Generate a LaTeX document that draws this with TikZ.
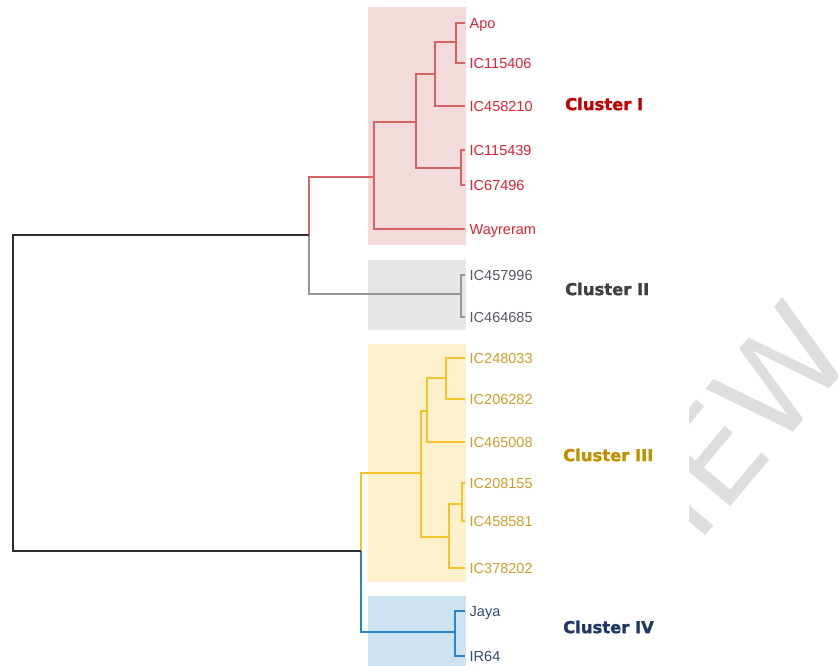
\documentclass[tikz,border=0pt]{standalone}
\usepackage{fontspec}
\setmainfont{Liberation Sans}
\newfontfamily\dejavu{DejaVu Sans}
\newfontfamily\clabfont[FakeBold=1.6]{DejaVu Sans Bold}
\usepackage{xcolor}
\usepackage{tikz}
\usetikzlibrary{positioning}

\definecolor{bgI}{RGB}{244,219,219}
\definecolor{bgII}{RGB}{230,230,230}
\definecolor{bgIII}{RGB}{252,241,204}
\definecolor{bgIV}{RGB}{205,226,243}
\definecolor{lnIcol}{RGB}{214,100,100}
\definecolor{lnIIcol}{RGB}{150,150,150}
\definecolor{lnIIIcol}{RGB}{243,197,40}
\definecolor{lnIVcol}{RGB}{42,132,208}
\definecolor{txIcol}{RGB}{222,32,50}
\definecolor{txIIcol}{RGB}{85,88,98}
\definecolor{txIIIcol}{RGB}{204,158,42}
\definecolor{txIVcol}{RGB}{48,74,112}
\definecolor{clIcol}{RGB}{192,0,0}
\definecolor{clIIcol}{RGB}{64,64,64}
\definecolor{clIIIcol}{RGB}{191,144,0}
\definecolor{clIVcol}{RGB}{31,56,100}
\definecolor{rootcol}{RGB}{45,45,45}
\definecolor{wmcol}{RGB}{222,222,222}

\begin{document}
\begin{tikzpicture}[x=1pt, y=-1pt,
  leaf/.style={anchor=west, inner xsep=4.5pt, inner ysep=0pt, text height=10.4pt, text depth=0pt, font=\fontsize{14.5}{16}\selectfont},
  leafI/.style={leaf, text=txIcol},
  leafII/.style={leaf, text=txIIcol},
  leafIII/.style={leaf, text=txIIIcol},
  leafIV/.style={leaf, text=txIVcol},
  clab/.style={anchor=west, inner sep=0pt, font=\clabfont\fontsize{16.4}{18}\selectfont},
  br/.style={line width=1.8pt},
  lnI/.style={br, draw=lnIcol},
  lnII/.style={br, draw=lnIIcol},
  lnIII/.style={br, draw=lnIIIcol},
  lnIV/.style={br, draw=lnIVcol},
  lnroot/.style={line width=2pt, draw=rootcol}
]
\useasboundingbox (0,0) rectangle (838,666);

\begin{scope}
\clip (689,0) rectangle (838,666);
\node[rotate=50, anchor=base east, inner sep=0pt, text=wmcol, font=\dejavu\fontsize{130}{130}\selectfont] (wm) at (858,355) {PREVIEW};
\end{scope}

\fill[bgI] (368,7) rectangle (466,245);
\fill[bgII] (368,260) rectangle (466,330);
\fill[bgIII] (368,344) rectangle (466,582);
\fill[bgIV] (368,596) rectangle (466,667);

\node[leafI] (apo) at (465,23) {Apo};
\node[leafI] (ic115406) at (465,63) {IC115406};
\node[leafI] (ic458210) at (465,106) {IC458210};
\node[leafI] (ic115439) at (465,150) {IC115439};
\node[leafI] (ic67496) at (465,185) {IC67496};
\node[leafI] (wayreram) at (465,229) {Wayreram};
\node[leafII] (ic457996) at (465,275) {IC457996};
\node[leafII] (ic464685) at (465,317) {IC464685};
\node[leafIII] (ic248033) at (465,358) {IC248033};
\node[leafIII] (ic206282) at (465,399) {IC206282};
\node[leafIII] (ic465008) at (465,442) {IC465008};
\node[leafIII] (ic208155) at (465,483) {IC208155};
\node[leafIII] (ic458581) at (465,521) {IC458581};
\node[leafIII] (ic378202) at (465,568) {IC378202};
\node[leafIV] (jaya) at (465,611) {Jaya};
\node[leafIV] (ir64) at (465,656) {IR64};

\node[clab, text=clIcol] (clI) at (565,104) {Cluster I};
\node[clab, text=clIIcol] (clII) at (565,289) {Cluster II};
\node[clab, text=clIIIcol] (clIII) at (563,455) {Cluster III};
\node[clab, text=clIVcol] (clIV) at (563,627) {Cluster IV};

\coordinate (a1) at (456,42);
\coordinate (a2) at (435,74);
\coordinate (a3) at (461,168);
\coordinate (a4) at (416,122);
\coordinate (a5) at (374,177);
\coordinate (b1) at (461,294);
\coordinate (c1) at (446,378);
\coordinate (c2) at (427,411);
\coordinate (c3) at (462,504);
\coordinate (c4) at (449,537);
\coordinate (c5) at (421,473);
\coordinate (d1) at (455,632);
\coordinate (r1) at (309,235);
\coordinate (r2) at (361,551);
\coordinate (r0) at (13,393);

\draw[lnI] (apo.west) -| (a1) |- (ic115406.west);
\draw[lnI] (a1) -| (a2) |- (ic458210.west);
\draw[lnI] (ic115439.west) -| (a3) |- (ic67496.west);
\draw[lnI] (a2) -| (a4) |- (a3);
\draw[lnI] (a4) -| (a5) |- (wayreram.west);
\draw[lnI] (a5) -| (r1);
\draw[lnII] (ic457996.west) -| (b1) |- (ic464685.west);
\draw[lnII] (b1) -| (r1);
\draw[lnIII] (ic248033.west) -| (c1) |- (ic206282.west);
\draw[lnIII] (c1) -| (c2) |- (ic465008.west);
\draw[lnIII] (ic208155.west) -| (c3) |- (ic458581.west);
\draw[lnIII] (c3) -| (c4) |- (ic378202.west);
\draw[lnIII] (c2) -| (c5) |- (c4);
\draw[lnIII] (c5) -| (r2);
\draw[lnIV] (jaya.west) -| (d1) |- (ir64.west);
\draw[lnIV] (d1) -| (r2);
\draw[lnroot] (r1) -| (r0) |- (r2);
\end{tikzpicture}
\end{document}
